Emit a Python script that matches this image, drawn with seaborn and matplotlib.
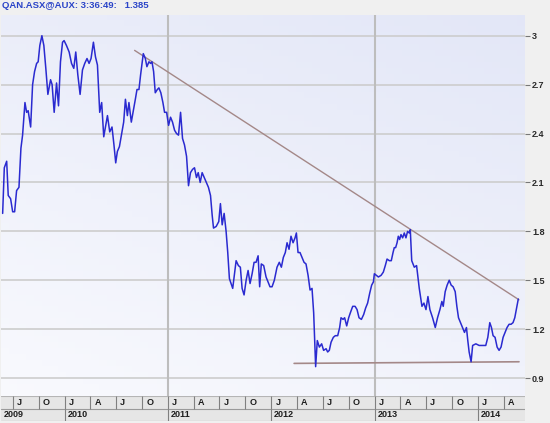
import numpy as np
import pandas as pd
import matplotlib
matplotlib.use('Agg')
import matplotlib.pyplot as plt
import matplotlib.transforms as mtransforms
import seaborn as sns

# QAN.ASX weekly closes, time as decimal year
times = [
    2009.398, 2009.414, 2009.437, 2009.452, 2009.475, 2009.495, 2009.514, 2009.533, 2009.556, 2009.575,
    2009.591, 2009.614, 2009.630, 2009.645, 2009.669, 2009.688, 2009.707, 2009.727, 2009.742, 2009.758,
    2009.778, 2009.797, 2009.816, 2009.836, 2009.862, 2009.877, 2009.897, 2009.920, 2009.939, 2009.958,
    2009.978, 2009.993, 2010.016, 2010.042, 2010.065, 2010.087, 2010.106, 2010.126, 2010.148, 2010.171,
    2010.193, 2010.215, 2010.235, 2010.254, 2010.277, 2010.297, 2010.316, 2010.338, 2010.357, 2010.377,
    2010.396, 2010.413, 2010.435, 2010.457, 2010.476, 2010.493, 2010.509, 2010.529, 2010.548, 2010.570,
    2010.587, 2010.606, 2010.621, 2010.644, 2010.664, 2010.683, 2010.699, 2010.718, 2010.734, 2010.760,
    2010.780, 2010.795, 2010.815, 2010.831, 2010.844, 2010.860, 2010.876, 2010.896, 2010.911, 2010.930,
    2010.950, 2010.966, 2010.986, 2011.005, 2011.024, 2011.043, 2011.063, 2011.082, 2011.101, 2011.121,
    2011.140, 2011.159, 2011.179, 2011.198, 2011.217, 2011.237, 2011.256, 2011.275, 2011.292, 2011.311,
    2011.330, 2011.350, 2011.369, 2011.391, 2011.411, 2011.427, 2011.440, 2011.466, 2011.491, 2011.507,
    2011.524, 2011.543, 2011.562, 2011.578, 2011.594, 2011.626, 2011.643, 2011.659, 2011.681, 2011.700,
    2011.717, 2011.736, 2011.756, 2011.775, 2011.794, 2011.814, 2011.833, 2011.852, 2011.872, 2011.887,
    2011.903, 2011.926, 2011.949, 2011.968, 2011.987, 2012.007, 2012.029, 2012.055, 2012.077, 2012.097,
    2012.116, 2012.135, 2012.152, 2012.171, 2012.190, 2012.210, 2012.229, 2012.242, 2012.258, 2012.277,
    2012.297, 2012.316, 2012.335, 2012.355, 2012.374, 2012.393, 2012.409, 2012.420, 2012.428, 2012.444,
    2012.464, 2012.486, 2012.505, 2012.529, 2012.544, 2012.560, 2012.577, 2012.599, 2012.618, 2012.641,
    2012.660, 2012.673, 2012.693, 2012.708, 2012.728, 2012.747, 2012.763, 2012.786, 2012.809, 2012.828,
    2012.847, 2012.870, 2012.892, 2012.911, 2012.930, 2012.950, 2012.969, 2012.986, 2012.995, 2013.014,
    2013.034, 2013.060, 2013.082, 2013.101, 2013.118, 2013.140, 2013.159, 2013.176, 2013.188, 2013.201,
    2013.215, 2013.227, 2013.240, 2013.253, 2013.269, 2013.285, 2013.301, 2013.317, 2013.333, 2013.343,
    2013.357, 2013.382, 2013.404, 2013.430, 2013.456, 2013.475, 2013.495, 2013.514, 2013.533, 2013.559,
    2013.585, 2013.607, 2013.630, 2013.649, 2013.662, 2013.681, 2013.700, 2013.720, 2013.739, 2013.758,
    2013.778, 2013.794, 2013.810, 2013.829, 2013.848, 2013.868, 2013.887, 2013.900, 2013.913, 2013.932,
    2013.947, 2013.978, 2014.010, 2014.042, 2014.074, 2014.094, 2014.113, 2014.129, 2014.145, 2014.164,
    2014.184, 2014.203, 2014.222, 2014.242, 2014.261, 2014.280, 2014.300, 2014.319, 2014.338, 2014.355,
    2014.370, 2014.389,
]
prices = [
    1.91, 2.19, 2.23, 2.02, 2.00, 1.92, 1.92, 2.05, 2.07, 2.31,
    2.39, 2.59, 2.53, 2.54, 2.44, 2.70, 2.78, 2.83, 2.84, 2.94,
    3.00, 2.94, 2.80, 2.64, 2.73, 2.70, 2.53, 2.71, 2.57, 2.84,
    2.96, 2.97, 2.94, 2.90, 2.83, 2.80, 2.90, 2.76, 2.64, 2.79,
    2.83, 2.86, 2.83, 2.86, 2.96, 2.87, 2.82, 2.53, 2.59, 2.38,
    2.45, 2.51, 2.41, 2.44, 2.33, 2.22, 2.29, 2.32, 2.39, 2.47,
    2.61, 2.51, 2.59, 2.47, 2.54, 2.61, 2.67, 2.67, 2.76, 2.89,
    2.86, 2.81, 2.84, 2.83, 2.84, 2.78, 2.65, 2.67, 2.68, 2.65,
    2.59, 2.53, 2.53, 2.45, 2.50, 2.47, 2.42, 2.40, 2.39, 2.53,
    2.37, 2.33, 2.26, 2.08, 2.16, 2.18, 2.19, 2.13, 2.16, 2.10,
    2.16, 2.13, 2.10, 2.07, 2.02, 1.90, 1.82, 1.83, 1.86, 1.97,
    1.84, 1.91, 1.80, 1.67, 1.51, 1.45, 1.54, 1.62, 1.59, 1.58,
    1.45, 1.41, 1.50, 1.56, 1.48, 1.54, 1.61, 1.61, 1.65, 1.46,
    1.60, 1.59, 1.52, 1.49, 1.46, 1.46, 1.50, 1.58, 1.61, 1.58,
    1.64, 1.67, 1.73, 1.69, 1.77, 1.73, 1.76, 1.79, 1.67, 1.67,
    1.64, 1.61, 1.60, 1.53, 1.44, 1.45, 1.30, 1.10, 0.97, 1.13,
    1.09, 1.11, 1.07, 1.08, 1.06, 1.07, 1.12, 1.15, 1.16, 1.16,
    1.21, 1.27, 1.26, 1.27, 1.22, 1.27, 1.30, 1.34, 1.34, 1.32,
    1.27, 1.26, 1.29, 1.33, 1.36, 1.42, 1.47, 1.49, 1.54, 1.53,
    1.52, 1.53, 1.55, 1.59, 1.63, 1.62, 1.62, 1.67, 1.70, 1.70,
    1.73, 1.77, 1.75, 1.78, 1.76, 1.79, 1.76, 1.80, 1.79, 1.81,
    1.62, 1.58, 1.59, 1.45, 1.34, 1.36, 1.32, 1.40, 1.32, 1.27,
    1.21, 1.27, 1.32, 1.37, 1.34, 1.43, 1.47, 1.50, 1.47, 1.46,
    1.43, 1.34, 1.27, 1.24, 1.21, 1.18, 1.21, 1.13, 1.06, 1.00,
    1.10, 1.11, 1.10, 1.10, 1.10, 1.15, 1.24, 1.21, 1.16, 1.15,
    1.09, 1.07, 1.09, 1.15, 1.18, 1.21, 1.23, 1.23, 1.24, 1.27,
    1.32, 1.385,
]

# drawn trend lines (start, end)
resist_times = [2010.676, 2014.396]
resist_prices = [2.91, 1.38]
support_times = [2012.22, 2014.396]
support_prices = [0.99, 1.00]

y_ticks = [0.9, 1.2, 1.5, 1.8, 2.1, 2.4, 2.7, 3.0]
y_labels = ['0.9', '1.2', '1.5', '1.8', '2.1', '2.4', '2.7', '3']
quarter_starts = ['2009-07-01', '2009-10-01',
                  '2010-01-01', '2010-04-01', '2010-07-01', '2010-10-01',
                  '2011-01-01', '2011-04-01', '2011-07-01', '2011-10-01',
                  '2012-01-01', '2012-04-01', '2012-07-01', '2012-10-01',
                  '2013-01-01', '2013-04-01', '2013-07-01', '2013-10-01',
                  '2014-01-01', '2014-04-01']
quarter_labels = ['J', 'O', 'J', 'A', 'J', 'O', 'J', 'A', 'J', 'O',
                  'J', 'A', 'J', 'O', 'J', 'A', 'J', 'O', 'J', 'A']
years = [2009, 2010, 2011, 2012, 2013, 2014]
vgrid_dates = ['2011-01-01', '2013-01-01']
x_range = [2009.382, 2014.454]
title_text = 'QAN.ASX@AUX: 3:36:49:   1.385'


def to_date(t):
    y = int(t)
    start = pd.Timestamp(year=y, month=1, day=1)
    end = pd.Timestamp(year=y + 1, month=1, day=1)
    return start + (end - start) * (t - y)


df = pd.DataFrame({'date': [to_date(t) for t in times], 'price': prices})
x0, x1 = to_date(x_range[0]), to_date(x_range[1])

sns.set_style('white')
plt.rcParams['font.family'] = ['Liberation Sans', 'DejaVu Sans']

W, H = 550, 423
fig = plt.figure(figsize=(W / 100, H / 100), dpi=100)
fig.patch.set_facecolor('#f0f0f0')
rect = [1 / W, 27 / H, 524 / W, 381 / H]

# background gradient panel
bg = fig.add_axes(rect, zorder=0)
gx, gy = np.meshgrid(np.linspace(0, 1, 64), np.linspace(0, 1, 64))
tt = (0.65 * gy + 0.35 * gx)[..., None]
c_lo = np.array([0.975, 0.978, 0.995])
c_hi = np.array([0.89, 0.905, 0.97])
bg.imshow(c_lo * (1 - tt) + c_hi * tt, origin='lower', aspect='auto', extent=[0, 1, 0, 1])
bg.set_axis_off()

ax = fig.add_axes(rect, zorder=1)
ax.set_facecolor('none')

for v in y_ticks:
    ax.axhline(v, color='#cdcdcd', lw=1.2, zorder=1)
for d in vgrid_dates:
    ax.axvline(pd.Timestamp(d), color='#bdbdbd', lw=1.5, zorder=1)

sns.lineplot(data=df, x='date', y='price', ax=ax, color='#2a2ad0', lw=1.1,
             sort=False, estimator=None, zorder=3)
ax.plot([to_date(t) for t in resist_times], resist_prices, color='#a48888', lw=1.0, zorder=2)
ax.plot([to_date(t) for t in support_times], support_prices, color='#a48888', lw=1.2, zorder=2)

ax.set_xlim(x0, x1)
ax.set_ylim(0.79, 3.127)
ax.set_xlabel('')
ax.set_ylabel('')
ax.set_xticks([])
ax.yaxis.tick_right()
ax.set_yticks(y_ticks)
ax.set_yticklabels(y_labels, fontweight='bold', fontsize=6.5, color='#2a2a2a')
ax.tick_params(axis='y', right=True, length=3.5, width=0.8, color='#777777',
               direction='out', pad=1.5)
for s in ax.spines.values():
    s.set_visible(False)

# date strip: quarters on top row, years on bottom row
strip = fig.add_axes([1 / W, 2 / H, 524 / W, 25 / H])
strip.set_facecolor('#e6e6e6')
strip.set_xlim(x0, x1)
strip.set_ylim(0, 2)
strip.set_xticks([])
strip.set_yticks([])
for s in strip.spines.values():
    s.set_visible(False)
strip.axhline(2, color='#b5b5b5', lw=0.8)
strip.axhline(1, color='#9a9a9a', lw=0.8)
strip.axhline(0, color='#9a9a9a', lw=0.8)

for d, lab in zip(quarter_starts, quarter_labels):
    dt = pd.Timestamp(d)
    strip.vlines(dt, 1, 2, color='#808080', lw=0.8)
    strip.annotate(lab, xy=(dt, 1.5), xytext=(3, 0), textcoords='offset points',
                   ha='left', va='center', fontsize=6.5, fontweight='bold', color='#1e1e1e')
for yr in years:
    dt = max(pd.Timestamp(year=yr, month=1, day=1), x0)
    if yr > years[0]:
        strip.vlines(dt, 0, 1, color='#808080', lw=0.8)
    strip.annotate(str(yr), xy=(dt, 0.5), xytext=(2, 0), textcoords='offset points',
                   ha='left', va='center', fontsize=6.5, fontweight='bold', color='#1e1e1e')

fig.text(2 / W, 1 - 5 / H, title_text, ha='left', va='center', fontsize=6.8,
         fontweight='bold', color='#2a44c8')

fig.savefig('out.png', dpi=100, facecolor=fig.get_facecolor())
